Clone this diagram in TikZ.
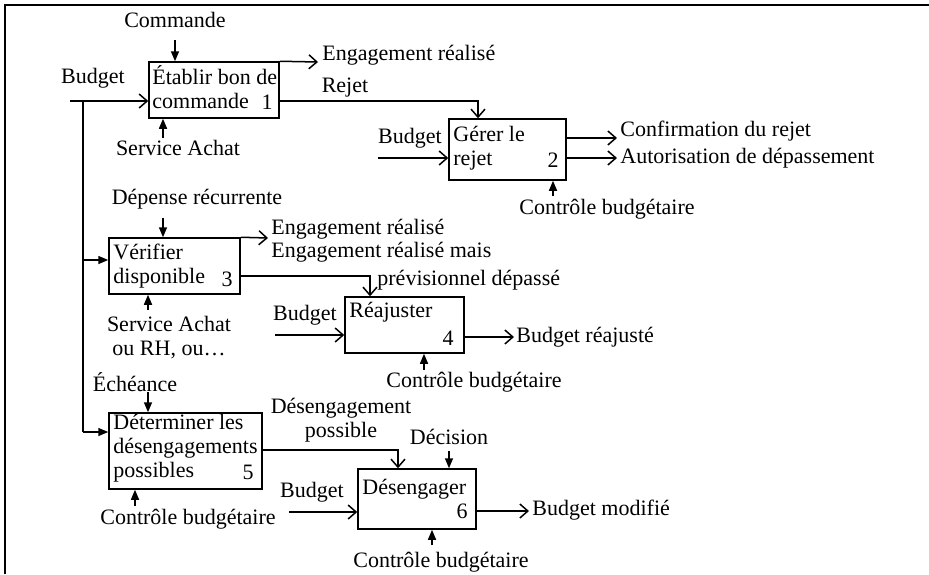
\documentclass[tikz,border=0pt]{standalone}
\usepackage{fontspec}
\setmainfont{Liberation Serif}
\usetikzlibrary{arrows.meta}

\begin{document}
\begin{tikzpicture}[x=0.5pt, y=-0.5pt,
    every node/.style={font=\fontsize{11pt}{12pt}\selectfont, inner sep=0pt},
    box/.style={draw, line width=0.75pt, minimum width=#1},
    boxtxt/.style={anchor=base west, align=left},
    num/.style={anchor=center},
    lbl/.style={anchor=center, align=center},
    lblw/.style={anchor=west},
    flow/.style={line width=0.75pt},
    outarrow/.style={flow, -{Straight Barb[length=4pt, width=7pt]}},
    ctrlarrow/.style={flow, -{Triangle[length=5pt, width=4pt]}}]
            \useasboundingbox (0,0) rectangle (929,574);
            \draw[line width=1pt] (5,574) -- (5,5) -- (929,5);

            % Define nodes
            \node[box=65pt, minimum height=28pt] (b1) at (214,90) {};
            \node[box=58.5pt, minimum height=30.5pt] (b2) at (507.5,149.5) {};
            \node[box=65.5pt, minimum height=28pt] (b3) at (174.5,266) {};
            \node[box=59.5pt, minimum height=28pt] (b4) at (404.5,325) {};
            \node[box=76.5pt, minimum height=38pt] (b5) at (185.5,451) {};
            \node[box=59pt, minimum height=30pt] (b6) at (417,499) {};

            % text sits on the baseline of its last line
            \node[boxtxt] (t1) at (152,108) {Établir bon de\\commande};
            \node[boxtxt] (t2) at (453,165) {Gérer le\\rejet};
            \node[boxtxt] (t3) at (113,283) {Vérifier\\disponible};
            \node[boxtxt] (t4) at (349,317) {Réajuster};
            \node[boxtxt] (t5) at (113,477) {Déterminer les\\désengagements\\possibles};
            \node[boxtxt] (t6) at (362,494) {Désengager};

            \node[num] (n1) at (267,102) {1};
            \node[num] (n2) at (553,160) {2};
            \node[num] (n3) at (227,279) {3};
            \node[num] (n4) at (448,338) {4};
            \node[num] (n5) at (248,472) {5};
            \node[num] (n6) at (462,511) {6};

            \node[lbl] (cmd) at (175,20) {Commande};
            \node[lbl] (bud1) at (93,78) {Budget};
            \node[lblw] (eng1) at (322,55) {Engagement réalisé};
            \node[lbl] (rej) at (345,88) {Rejet};
            \node[lbl] (sa1) at (178,148) {Service Achat};
            \node[lbl] (bud2) at (410,138) {Budget};
            \node[lblw] (conf) at (620,131) {Confirmation du rejet};
            \node[lblw] (auto) at (620,158) {Autorisation de dépassement};
            \node[lbl] (cb2) at (607,209) {Contrôle budgétaire};
            \node[lbl] (dep) at (197,199) {Dépense récurrente};
            \node[lblw] (eng3) at (271,229) {Engagement réalisé};
            \node[lblw] (eng3b) at (271,252) {Engagement réalisé mais};
            \node[lblw] (prev) at (377,280) {prévisionnel dépassé};
            \node[lbl] (sa3) at (169,338) {Service Achat\\ou RH, ou…};
            \node[lbl] (bud4) at (305,315) {Budget};
            \node[lblw] (baj) at (516,337) {Budget réajusté};
            \node[lbl] (cb4) at (474,382) {Contrôle budgétaire};
            \node[lbl] (ech) at (135,382) {Échéance};
            \node[lbl] (desp) at (341,420) {Désengagement\\possible};
            \node[lbl] (dec) at (449,437) {Décision};
            \node[lbl] (cb5) at (188,519) {Contrôle budgétaire};
            \node[lbl] (bud6) at (312,492) {Budget};
            \node[lblw] (bmod) at (532,510) {Budget modifié};
            \node[lbl] (cb6) at (441,562) {Contrôle budgétaire};

            % Free ends
            \coordinate (cin1) at (175,40);
            \coordinate (cup1) at (163,138);
            \coordinate (bus) at (70,101);
            \coordinate (bus1) at (83,101);
            \coordinate (bus3) at (83,260);
            \coordinate (bus5) at (83,432);
            \coordinate (oeng1) at (318,62);
            \coordinate (orej) at (478,101);
            \coordinate (bin2) at (378,158);
            \coordinate (oconf) at (617,138);
            \coordinate (oauto) at (617,158);
            \coordinate (cup2) at (553,196);
            \coordinate (cin3) at (163,218);
            \coordinate (cup3) at (148,310);
            \coordinate (oeng3) at (268,238);
            \coordinate (odep) at (370,276);
            \coordinate (bin4) at (275,335);
            \coordinate (obaj) at (514,337);
            \coordinate (cup4) at (424,370);
            \coordinate (cin5) at (148,392);
            \coordinate (cup5) at (135,506);
            \coordinate (odes) at (398,450);
            \coordinate (cin6) at (449,451);
            \coordinate (bin6) at (289,512);
            \coordinate (obmod) at (529,511);
            \coordinate (cup6) at (432,545);

            % Draw edges
            \draw[ctrlarrow] (cin1) -- (cin1 |- b1.north);
            \draw[ctrlarrow] (cup1) -- (cup1 |- b1.south);
            \draw[outarrow] (bus) -- (bus -| b1.west);
            \draw[outarrow] (b1.north east) -- (oeng1);
            \draw[outarrow] (orej -| b1.east) -- (orej) -- (orej |- b2.north);
            \draw[flow] (bus1) -- (bus5);
            \draw[ctrlarrow] (bus3) -- (bus3 -| b3.west);
            \draw[ctrlarrow] (bus5) -- (bus5 -| b5.west);

            \draw[outarrow] (bin2) -- (bin2 -| b2.west);
            \draw[outarrow] (oconf -| b2.east) -- (oconf);
            \draw[outarrow] (oauto -| b2.east) -- (oauto);
            \draw[ctrlarrow] (cup2) -- (cup2 |- b2.south);

            \draw[ctrlarrow] (cin3) -- (cin3 |- b3.north);
            \draw[ctrlarrow] (cup3) -- (cup3 |- b3.south);
            \draw[outarrow] (b3.north east) -- (oeng3);
            \draw[outarrow] (odep -| b3.east) -- (odep) -- (odep |- b4.north);

            \draw[outarrow] (bin4) -- (bin4 -| b4.west);
            \draw[outarrow] (obaj -| b4.east) -- (obaj);
            \draw[ctrlarrow] (cup4) -- (cup4 |- b4.south);

            \draw[ctrlarrow] (cin5) -- (cin5 |- b5.north);
            \draw[ctrlarrow] (cup5) -- (cup5 |- b5.south);
            \draw[outarrow] (odes -| b5.east) -- (odes) -- (odes |- b6.north);

            \draw[ctrlarrow] (cin6) -- (cin6 |- b6.north);
            \draw[outarrow] (bin6) -- (bin6 -| b6.west);
            \draw[outarrow] (obmod -| b6.east) -- (obmod);
            \draw[ctrlarrow] (cup6) -- (cup6 |- b6.south);

        \end{tikzpicture}
\end{document}
